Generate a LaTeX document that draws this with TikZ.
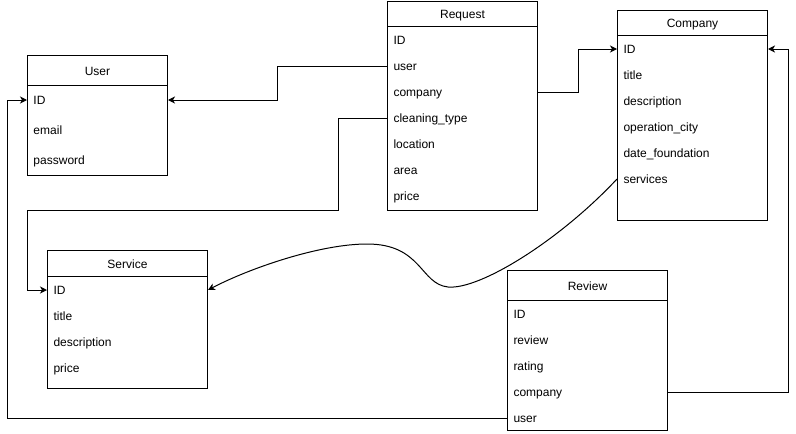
\documentclass[tikz,border=0pt]{standalone}
\usepackage{fontspec}
\setmainfont{Liberation Sans}
\usetikzlibrary{arrows.meta}
\begin{document}
\begin{tikzpicture}[x=1pt,y=-1pt,line width=1pt,
  font=\fontsize{12}{14}\selectfont,
  tbl/.style={draw,fill=white,anchor=north west,inner sep=0pt},
  hdr/.style={draw,anchor=north west,inner sep=0pt,text height=11pt,text depth=2pt},
  fld/.style={anchor=west,inner xsep=6pt,inner ysep=0pt,align=left,text height=11pt,text depth=2pt},
  arr/.style={-{Stealth[length=7pt,width=7pt,inset=2pt]}}]
\useasboundingbox (0,0) rectangle (796,434);

% User
\node[tbl,minimum width=140,minimum height=120] (user) at (27,55) {};
\node[hdr,minimum width=140,minimum height=30] (userh) at (27,55) {User};
\node[fld,text width=128] (u-id) at (27,100) {ID};
\node[fld,text width=128] (u-email) at (27,130) {email};
\node[fld,text width=128] (u-pass) at (27,160) {password};

% Request
\node[tbl,minimum width=150,minimum height=209] (req) at (387,1) {};
\node[hdr,minimum width=150,minimum height=25] (reqh) at (387,1) {Request};
\node[fld,text width=138] (r-id) at (387,40) {ID};
\node[fld,text width=138] (r-user) at (387,66) {user};
\node[fld,text width=138] (r-comp) at (387,92) {company};
\node[fld,text width=138] (r-clean) at (387,118) {cleaning\_type};
\node[fld,text width=138] (r-loc) at (387,144) {location};
\node[fld,text width=138] (r-area) at (387,170) {area};
\node[fld,text width=138] (r-price) at (387,196) {price};

% Company
\node[tbl,minimum width=150,minimum height=210] (comp) at (617,10) {};
\node[hdr,minimum width=150,minimum height=25] (comph) at (617,10) {Company};
\node[fld,text width=138] (c-id) at (617,49) {ID};
\node[fld,text width=138] (c-title) at (617,75) {title};
\node[fld,text width=138] (c-desc) at (617,101) {description};
\node[fld,text width=138] (c-city) at (617,127) {operation\_city};
\node[fld,text width=138] (c-date) at (617,153) {date\_foundation};
\node[fld,text width=138] (c-serv) at (617,179) {services};

% Service
\node[tbl,minimum width=160,minimum height=138] (serv) at (47,250) {};
\node[hdr,minimum width=160,minimum height=26] (servh) at (47,250) {Service};
\node[fld,text width=148] (s-id) at (47,290) {ID};
\node[fld,text width=148] (s-title) at (47,316) {title};
\node[fld,text width=148] (s-desc) at (47,342) {description};
\node[fld,text width=148] (s-price) at (47,368) {price};

% Review
\node[tbl,minimum width=160,minimum height=160] (rev) at (507,270) {};
\node[hdr,minimum width=160,minimum height=30] (revh) at (507,270) {Review};
\node[fld,text width=148] (v-id) at (507,314) {ID};
\node[fld,text width=148] (v-rev) at (507,340) {review};
\node[fld,text width=148] (v-rating) at (507,366) {rating};
\node[fld,text width=148] (v-comp) at (507,392) {company};
\node[fld,text width=148] (v-user) at (507,418) {user};

% connectors
\draw[arr] (r-user.west) -- ++(-110,0) |- (u-id.east);
\draw[arr] (r-clean.west) -- ++(-49,0) |- (27,210) |- (s-id.west);
\draw[arr] (r-comp.east) -- ++(40,0) |- (c-id.west);
\draw[arr] (c-serv.west) .. controls (560,240) and (480,290) .. (448,287)
  .. controls (420,284) and (422,244) .. (367,244)
  .. controls (320,244) and (250,268) .. (s-id.east);
\draw[arr] (v-comp.east) -- ++(120,0) |- (c-id.east);
\draw[arr] (v-user.west) -- ++(-500,0) |- (u-id.west);
\end{tikzpicture}
\end{document}
